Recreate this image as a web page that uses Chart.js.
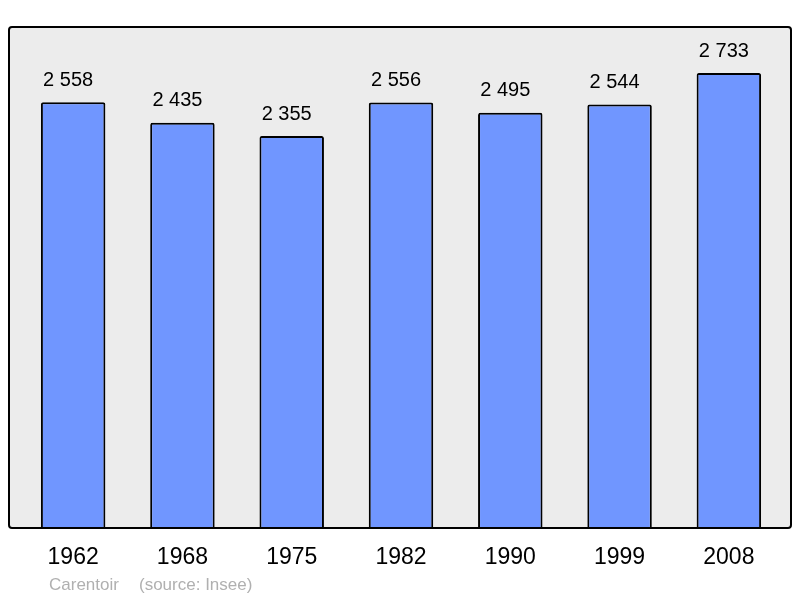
<!DOCTYPE html>
<html>
<head>
<meta charset="utf-8">
<script src="https://cdn.jsdelivr.net/npm/chart.js@4/dist/chart.umd.min.js"></script>
<style>
html,body{margin:0;padding:0;background:#fff;}
#wrap{width:800px;height:598px;position:relative;}
</style>
</head>
<body>
<div id="wrap"><canvas id="c" width="800" height="598"></canvas></div>
<script>
const categories = ["1962", "1968", "1975", "1982", "1990", "1999", "2008"];
const population = [2558, 2435, 2355, 2556, 2495, 2544, 2733];
const valueLabels = ["2 558", "2 435", "2 355", "2 556", "2 495", "2 544", "2 733"];
const footerPlace = "Carentoir";
const footerSource = "(source: Insee)";

const framePlugin = {
  id: 'frame',
  beforeDraw(chart) {
    const {ctx, chartArea: a} = chart;
    const l = a.left - 9.5, r = a.right + 7.5, t = a.top, b = a.bottom;
    ctx.save();
    ctx.beginPath();
    ctx.roundRect(l, t, r - l, b - t, 3);
    ctx.fillStyle = '#ececec';
    ctx.fill();
    ctx.restore();
  },
  afterDatasetsDraw(chart) {
    const {ctx, chartArea: a} = chart;
    const l = a.left - 9.5, r = a.right + 7.5, t = a.top, b = a.bottom;
    ctx.save();
    ctx.beginPath();
    ctx.roundRect(l, t, r - l, b - t, 3);
    ctx.lineWidth = 2;
    ctx.strokeStyle = '#000';
    ctx.stroke();
    // value labels
    ctx.font = '20px "Liberation Sans", Arial, sans-serif';
    ctx.fillStyle = '#000';
    ctx.textAlign = 'center';
    ctx.textBaseline = 'middle';
    chart.getDatasetMeta(0).data.forEach((bar, i) => {
      ctx.fillText(valueLabels[i], bar.x - 5, bar.y - 22);
    });
    // footer
    ctx.font = '17px "Liberation Sans", Arial, sans-serif';
    ctx.fillStyle = '#b0b0b0';
    ctx.textAlign = 'left';
    ctx.fillText(footerPlace, 49, 585);
    ctx.fillText(footerSource, 139, 585);
    ctx.restore();
  }
};

new Chart(document.getElementById('c'), {
  type: 'bar',
  data: {
    labels: categories,
    datasets: [{
      data: population,
      backgroundColor: '#7096ff',
      borderColor: '#000',
      borderWidth: 2,
      borderRadius: {topLeft: 2, topRight: 2, bottomLeft: 0, bottomRight: 0},
      borderSkipped: 'bottom',
      categoryPercentage: 1,
      barPercentage: 0.59
    }]
  },
  options: {
    responsive: false,
    animation: false,
    devicePixelRatio: 1,
    layout: {padding: {left: 18.5, right: 16.5, top: 27, bottom: 0}},
    plugins: {legend: {display: false}, tooltip: {enabled: false}, title: {display: false}},
    scales: {
      x: {
        offset: true,
        grid: {display: false},
        border: {display: false},
        ticks: {
          color: '#000',
          font: {family: '"Liberation Sans", Arial, sans-serif', size: 23},
          padding: 8,
          maxRotation: 0
        },
        afterFit(scale) { scale.height = 70; }
      },
      y: {
        display: false,
        min: 0,
        max: 3010
      }
    }
  },
  plugins: [framePlugin]
});
</script>
</body>
</html>
